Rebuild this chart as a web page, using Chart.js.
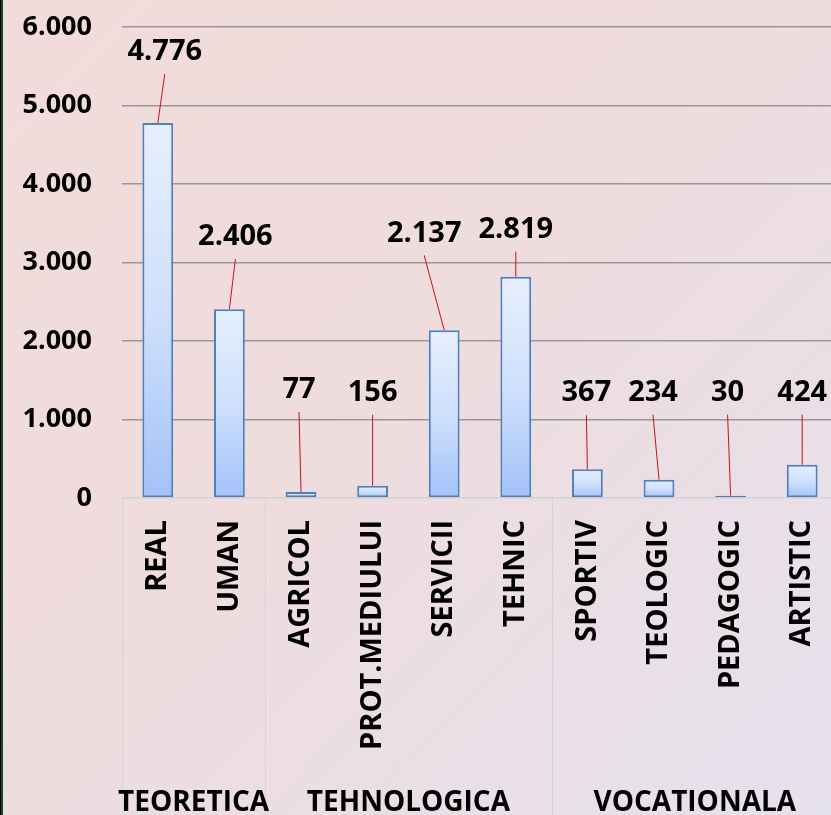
<!DOCTYPE html>
<html>
<head>
<meta charset="utf-8">
<script src="https://cdn.jsdelivr.net/npm/chart.js@4.4.1/dist/chart.umd.min.js"></script>
<style>
    html, body {
        margin: 0;
        padding: 0;
        width: 831px;
        height: 815px;
        overflow: hidden;
    }
    #wrap {
        position: relative;
        width: 831px;
        height: 815px;
        overflow: hidden;
        background: linear-gradient(135deg, #f2dcdb 0%, #efdcdd 45%, #e5e1ed 100%);
    }
    #edge {
        position: absolute;
        left: 0;
        top: 0;
        width: 1px;
        height: 815px;
        background: #000;
        border-right: 2px solid #0b4a22;
    }
    #chart {
        position: absolute;
        left: 0;
        top: 0;
    }
</style>
</head>
<body>
<div id="wrap">
    <canvas id="chart" width="840" height="815"></canvas>
    <div id="edge"></div>
</div>
<script>
// ===== DATA =====
const categories = ["REAL", "UMAN", "AGRICOL", "PROT.MEDIULUI", "SERVICII", "TEHNIC", "SPORTIV", "TEOLOGIC", "PEDAGOGIC", "ARTISTIC"];
const values = [4776, 2406, 77, 156, 2137, 2819, 367, 234, 30, 424];
const groupNames = ["TEORETICA", "TEHNOLOGICA", "VOCATIONALA"];
const groupSizes = [2, 4, 4];
const yTicks = [0, 1000, 2000, 3000, 4000, 5000, 6000];

// label placement (pixel shift of each value label from its bar top)
const labelShift = [[7, -71], [6, -72], [-2, -102], [0, -93], [-20, -97], [0, -47], [-1, -76], [-6, -87], [-3, -103], [0, -72]];

const FONT = "'Open Sans', 'DejaVu Sans', sans-serif";

function fmt(v) {
    return String(v).replace(/\B(?=(\d{3})+(?!\d))/g, ".");
}

// Gradient per bar, light at the top and darker blue at the base
function barFill(context) {
    const chart = context.chart;
    const yScale = chart.scales.y;
    if (!yScale || context.dataIndex === undefined) {
        return "#c5d9fb";
    }
    const top = yScale.getPixelForValue(values[context.dataIndex]);
    const base = yScale.getPixelForValue(0);
    if (!isFinite(top) || !isFinite(base) || top === base) {
        return "#c5d9fb";
    }
    const g = chart.ctx.createLinearGradient(0, top, 0, base);
    g.addColorStop(0, "#e6effd");
    g.addColorStop(0.5, "#cfe0fc");
    g.addColorStop(1, "#a3c2f9");
    return g;
}

// drop the extra room Chart.js keeps for the end labels
function noScalePadding(scale) {
    scale.paddingTop = 0;
    scale.paddingBottom = 0;
    scale.paddingLeft = 0;
    scale.paddingRight = 0;
}

// Group separators, group names and leader labels
const extrasPlugin = {
    id: "extras",
    afterDraw(chart) {
        const ctx = chart.ctx;
        const x = chart.scales.x;
        const area = chart.chartArea;
        const bottom = chart.height;

        // separator lines below the axis
        ctx.save();
        ctx.strokeStyle = "#d6d3d6";
        ctx.lineWidth = 1;
        let start = 0;
        const edges = [x.getPixelForValue(-0.5)];
        groupSizes.forEach((size) => {
            start += size;
            edges.push(x.getPixelForValue(start - 0.5));
        });
        edges.forEach((ex) => {
            ctx.beginPath();
            ctx.moveTo(Math.round(ex) + 0.5, area.bottom);
            ctx.lineTo(Math.round(ex) + 0.5, bottom);
            ctx.stroke();
        });

        // group names
        ctx.fillStyle = "#000";
        ctx.font = "bold 28px " + FONT;
        ctx.textAlign = "center";
        ctx.textBaseline = "alphabetic";
        groupNames.forEach((name, i) => {
            const cx = (edges[i] + edges[i + 1]) / 2;
            ctx.fillText(name, cx, 811);
        });
        ctx.restore();
    },
    afterDatasetsDraw(chart) {
        const ctx = chart.ctx;
        const meta = chart.getDatasetMeta(0);
        ctx.save();
        ctx.font = "bold 29px " + FONT;
        ctx.textAlign = "center";
        ctx.textBaseline = "middle";
        meta.data.forEach((bar, i) => {
            const lx = bar.x + labelShift[i][0];
            const ly = bar.y + labelShift[i][1];

            // leader line
            ctx.strokeStyle = "#c0141c";
            ctx.lineWidth = 1;
            ctx.beginPath();
            ctx.moveTo(lx, ly + 22);
            ctx.lineTo(bar.x, bar.y);
            ctx.stroke();

            ctx.fillStyle = "#000";
            ctx.fillText(fmt(values[i]), lx, ly);
        });
        ctx.restore();
    },
};

new Chart(document.getElementById("chart"), {
    type: "bar",
    data: {
        labels: categories,
        datasets: [
            {
                data: values,
                backgroundColor: barFill,
                borderColor: "#4f81bd",
                borderWidth: 2,
                borderSkipped: false,
                categoryPercentage: 1,
                barPercentage: 0.43,
            },
        ],
    },
    options: {
        responsive: false,
        animation: false,
        layout: {
            padding: { top: 27, right: 2, bottom: 0, left: 0 },
        },
        plugins: {
            legend: { display: false },
            tooltip: { enabled: false },
        },
        scales: {
            x: {
                grid: { display: false, drawTicks: false },
                border: { display: false },
                ticks: {
                    autoSkip: false,
                    minRotation: 90,
                    maxRotation: 90,
                    padding: 22,
                    color: "#000",
                    font: { family: FONT, size: 29, weight: "bold" },
                },
                afterFit(scale) {
                    scale.height = 317;
                    noScalePadding(scale);
                },
            },
            y: {
                min: 0,
                max: 6000,
                afterBuildTicks(scale) {
                    scale.ticks = yTicks.map((v) => ({ value: v }));
                },
                grid: {
                    drawTicks: false,
                    color: (c) => (c.tick && c.tick.value === 0 ? "#d4d2d4" : "#989898"),
                    lineWidth: 1.5,
                },
                border: { display: false },
                ticks: {
                    padding: 30,
                    color: "#000",
                    font: { family: FONT, size: 27, weight: "bold" },
                    callback: (v) => fmt(v),
                },
                afterFit(scale) {
                    scale.width = 122;
                    noScalePadding(scale);
                },
            },
        },
    },
    plugins: [extrasPlugin],
});
</script>
</body>
</html>
